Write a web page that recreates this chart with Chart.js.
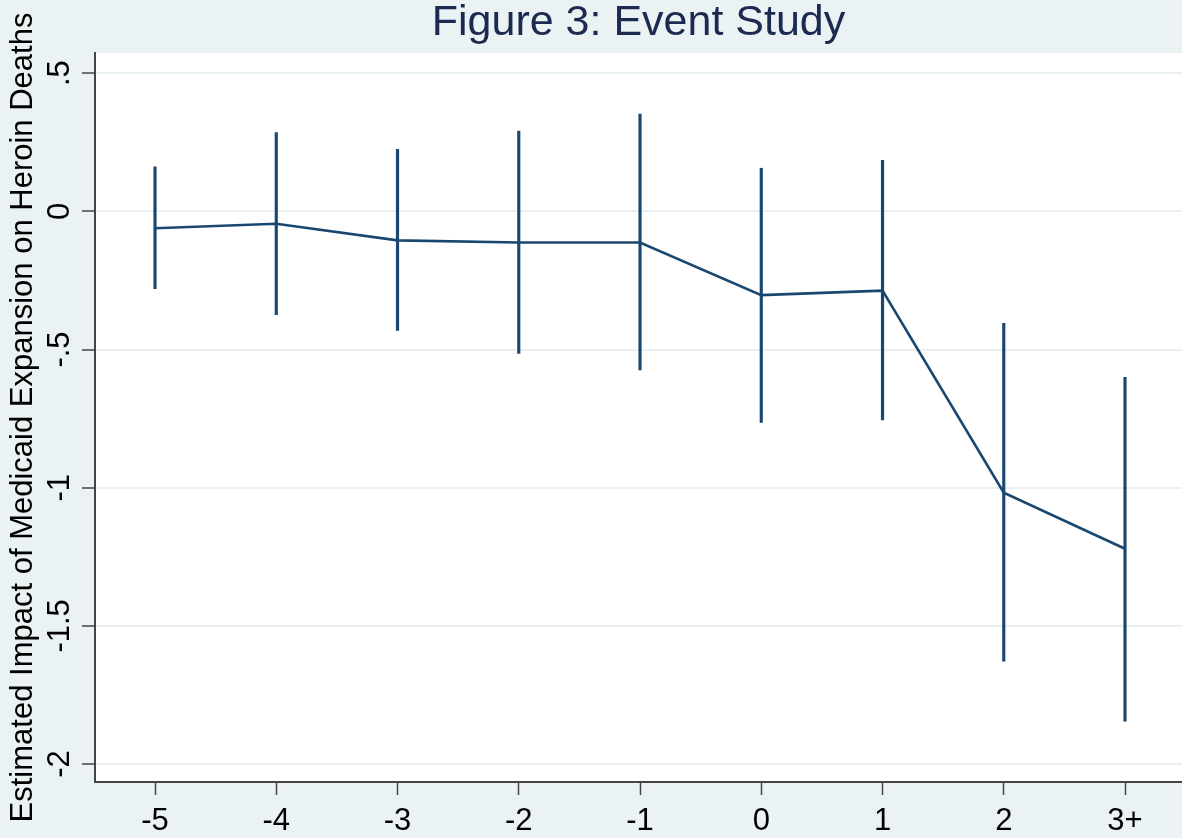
<!DOCTYPE html>
<html>
<head>
<meta charset="utf-8">
<script src="https://cdn.jsdelivr.net/npm/chart.js@4/dist/chart.umd.min.js"></script>
<style>
  html, body { margin: 0; padding: 0; background: #EAF2F3; }
  #c { display: block; background: #EAF2F3; }
</style>
</head>
<body>
<canvas id="c" width="1182" height="838"></canvas>
<script>
// ---- Data ----
const periods    = [-5, -4, -3, -2, -1, 0, 1, 2, 3];
const xLabels    = ['-5', '-4', '-3', '-2', '-1', '0', '1', '2', '3+'];
const estimates  = [-0.061, -0.045, -0.105, -0.113, -0.113, -0.303, -0.287, -1.018, -1.221];
const ciUpper    = [0.161, 0.285, 0.224, 0.290, 0.352, 0.156, 0.185, -0.405, -0.601];
const ciLower    = [-0.280, -0.374, -0.431, -0.514, -0.574, -0.764, -0.755, -1.628, -1.845];
const yTicks     = [0.5, 0, -0.5, -1, -1.5, -2];
const yTickLabels = ['.5', '0', '-.5', '-1', '-1.5', '-2'];

const NAVY = '#1A476F';
const FONT = "'Liberation Sans', Arial, sans-serif";

const plotBg = {
  id: 'plotBg',
  beforeDraw(chart) {
    const { ctx, chartArea: a } = chart;
    ctx.save();
    ctx.fillStyle = '#FFFFFF';
    ctx.fillRect(a.left, a.top, a.right - a.left, a.bottom - a.top);
    ctx.restore();
  }
};

new Chart(document.getElementById('c'), {
  type: 'line',
  data: {
    datasets: [
      {
        type: 'bar',
        label: 'CI',
        data: periods.map((p, i) => ({ x: p, y: [ciLower[i], ciUpper[i]] })),
        backgroundColor: NAVY,
        borderWidth: 0,
        barThickness: 2.5,
        order: 2
      },
      {
        type: 'line',
        label: 'Estimate',
        data: periods.map((p, i) => ({ x: p, y: estimates[i] })),
        borderColor: NAVY,
        borderWidth: 2.6,
        pointRadius: 0,
        tension: 0,
        fill: false,
        order: 1
      }
    ]
  },
  options: {
    responsive: false,
    animation: false,
    layout: { padding: 0 },
    plugins: {
      legend: { display: false },
      tooltip: { enabled: false },
      title: {
        display: true,
        text: 'Figure 3: Event Study',
        fullSize: false,
        color: '#1c2a52',
        font: { family: FONT, size: 43, weight: 'normal', lineHeight: 1.0 },
        padding: { top: 2, bottom: 8 }
      }
    },
    scales: {
      x: {
        type: 'linear',
        min: -5.495,
        max: 3.47,
        offset: false,
        afterBuildTicks(scale) { scale.ticks = periods.map(v => ({ value: v })); },
        afterFit(scale) { scale.height = 56; },
        ticks: {
          color: '#000',
          font: { family: FONT, size: 31 },
          padding: 8,
          maxRotation: 0,
          minRotation: 0,
          autoSkip: false,
          callback: (v) => { const i = periods.indexOf(v); return i >= 0 ? xLabels[i] : ''; }
        },
        grid: {
          offset: false,
          drawOnChartArea: false,
          drawTicks: true,
          tickLength: 13,
          tickColor: '#444',
          tickWidth: 1.5
        },
        border: { display: true, color: '#444', width: 2 }
      },
      y: {
        type: 'linear',
        min: -2.065,
        max: 0.573,
        afterBuildTicks(scale) { scale.ticks = yTicks.map(v => ({ value: v })); },
        afterFit(scale) { scale.width = 95; },
        ticks: {
          color: '#000',
          font: { family: FONT, size: 31 },
          minRotation: 90,
          maxRotation: 90,
          crossAlign: 'center',
          padding: -4.7,
          callback: (v) => { const i = yTicks.indexOf(v); return i >= 0 ? yTickLabels[i] : ''; }
        },
        grid: {
          color: '#E8F0F2',
          lineWidth: 2,
          drawTicks: true,
          tickLength: 13,
          tickColor: '#444',
          tickWidth: 1.5
        },
        border: { display: true, color: '#444', width: 2 },
        title: {
          display: true,
          text: 'Estimated Impact of Medicaid Expansion on Heroin Deaths',
          color: '#000',
          font: { family: FONT, size: 31 },
          padding: { top: 5, bottom: 0 }
        }
      }
    }
  },
  plugins: [plotBg]
});
</script>
</body>
</html>
